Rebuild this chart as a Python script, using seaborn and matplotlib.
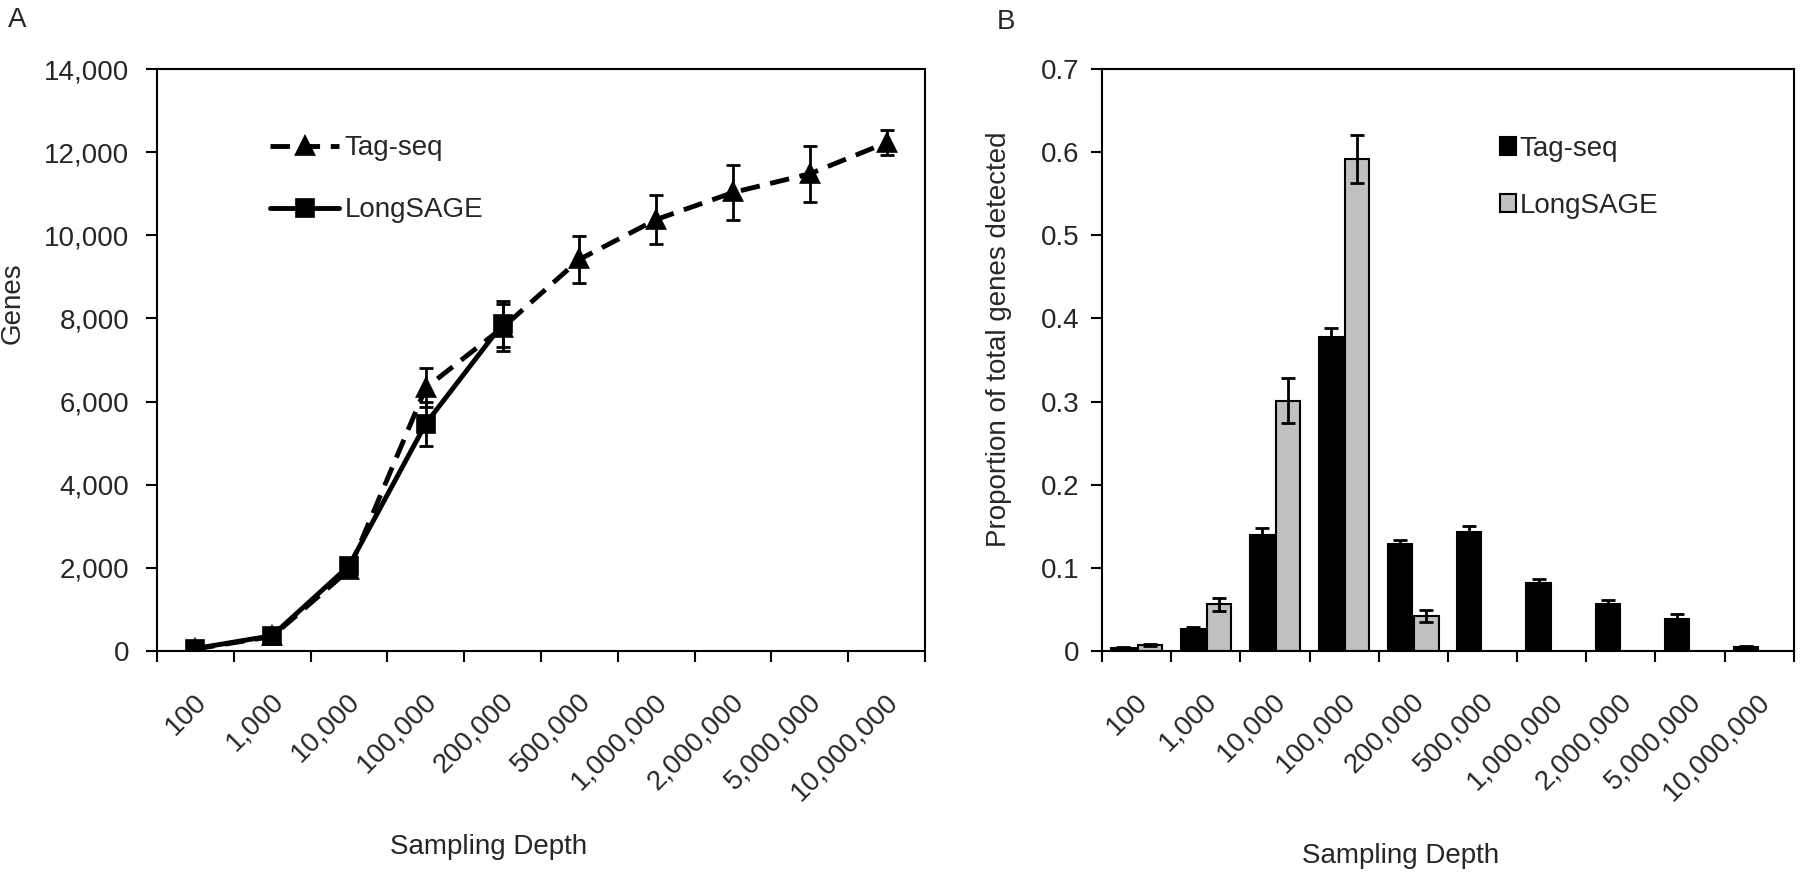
import numpy as np
import pandas as pd
import seaborn as sns
import matplotlib
matplotlib.use('Agg')
import matplotlib.pyplot as plt
from matplotlib import ticker, transforms

# sampling depths (categorical x axis)
depths = ['100', '1,000', '10,000', '100,000', '200,000', '500,000',
          '1,000,000', '2,000,000', '5,000,000', '10,000,000']
methods = ['Tag-seq', 'LongSAGE']

# panel A: genes detected
tag_genes = [50, 350, 1950, 6330, 7780, 9420, 10380, 11030, 11480, 12230]
tag_genes_err = [40, 60, 100, 470, 560, 560, 600, 650, 670, 310]
sage_genes = [60, 370, 2050, 5470, 7870]
sage_genes_err = [40, 60, 100, 530, 550]

# panel B: proportion of total genes detected
tag_prop = [0.004, 0.027, 0.140, 0.378, 0.129, 0.1435, 0.082, 0.057, 0.039, 0.005]
tag_prop_err = [0.001, 0.002, 0.008, 0.010, 0.004, 0.007, 0.005, 0.004, 0.005, 0.001]
sage_prop = [0.0075, 0.056, 0.301, 0.592, 0.0425]
sage_prop_err = [0.001, 0.008, 0.027, 0.029, 0.007]

genes_df = pd.concat([
    pd.DataFrame({'depth': depths, 'genes': tag_genes, 'method': 'Tag-seq'}),
    pd.DataFrame({'depth': depths[:len(sage_genes)], 'genes': sage_genes, 'method': 'LongSAGE'}),
])
prop_df = pd.concat([
    pd.DataFrame({'depth': depths, 'prop': tag_prop, 'method': 'Tag-seq'}),
    pd.DataFrame({'depth': depths[:len(sage_prop)], 'prop': sage_prop, 'method': 'LongSAGE'}),
])

sns.set_style('ticks')
plt.rcParams['font.family'] = ['Liberation Sans', 'DejaVu Sans']
plt.rcParams['font.size'] = 20

fig = plt.figure(figsize=(18, 8.76), dpi=100)
ax1 = fig.add_axes([0.0872, 0.2568, 0.4267, 0.6644])
ax2 = fig.add_axes([0.6122, 0.2568, 0.3844, 0.6644])

x_pos = np.arange(len(depths))

# ---- A ----
sns.pointplot(data=genes_df, x='depth', y='genes', hue='method', order=depths,
              hue_order=methods, palette={'Tag-seq': 'black', 'LongSAGE': 'black'},
              markers=['^', 's'], linestyles=[(0, (4, 2.2)), '-'],
              errorbar=None, markersize=11, linewidth=3.5, ax=ax1)
ax1.errorbar(x_pos, tag_genes, yerr=tag_genes_err, fmt='none', ecolor='black',
             elinewidth=2, capsize=5, capthick=2, zorder=1)
ax1.errorbar(x_pos[:len(sage_genes)], sage_genes, yerr=sage_genes_err, fmt='none',
             ecolor='black', elinewidth=2, capsize=5, capthick=2, zorder=1)
ax1.set_ylim(0, 14000)
ax1.set_yticks(np.arange(0, 14001, 2000))
ax1.yaxis.set_major_formatter(ticker.StrMethodFormatter('{x:,.0f}'))
ax1.set_ylabel('Genes')
sns.move_legend(ax1, loc='upper left', bbox_to_anchor=(0.147, 0.886), frameon=False,
                title=None, handlelength=2.5, handletextpad=0.2, labelspacing=1.3,
                borderaxespad=0, borderpad=0, fontsize=20)

# ---- B ----
sns.barplot(data=prop_df, x='depth', y='prop', hue='method', order=depths,
            hue_order=methods, palette={'Tag-seq': 'black', 'LongSAGE': '#c0c0c0'},
            edgecolor='black', linewidth=1.5, width=0.76, gap=0.08,
            errorbar=None, saturation=1, ax=ax2)
for cont, errs in zip(ax2.containers, [tag_prop_err, sage_prop_err]):
    xs = [b.get_x() + b.get_width() / 2 for b in cont]
    ys = [b.get_height() for b in cont]
    ax2.errorbar(xs, ys, yerr=errs, fmt='none', ecolor='black',
                 elinewidth=2, capsize=5, capthick=2)
ax2.set_ylim(0, 0.7)
ax2.set_yticks(np.arange(0, 0.71, 0.1))
ax2.yaxis.set_major_formatter(ticker.FuncFormatter(lambda v, p: f'{v:g}'))
ax2.set_ylabel('Proportion of total genes detected')
sns.move_legend(ax2, loc='upper left', bbox_to_anchor=(0.575, 0.885), frameon=False,
                title=None, handlelength=0.6, handleheight=0.6, handletextpad=0.1,
                labelspacing=1.1, borderaxespad=0, borderpad=0, fontsize=20)

offset = transforms.ScaledTranslation(-2 / 100, 0, fig.dpi_scale_trans)
for ax, ypad in ((ax1, 12), (ax2, 8)):
    ax.set_xlim(-0.5, len(depths) - 0.5)
    ax.set_xticks(x_pos)
    ax.set_xticklabels(depths, rotation=45, ha='right', va='top', rotation_mode='anchor')
    ax.set_xticks(np.arange(-0.5, len(depths)), minor=True)
    ax.tick_params(axis='x', which='major', length=0, pad=27, labelsize=20)
    ax.tick_params(axis='x', which='minor', length=8, width=1.5, direction='out', color='black')
    ax.tick_params(axis='y', length=8, width=1.5, pad=ypad, labelsize=20, color='black')
    ax.set_xlabel('Sampling Depth')
    for s in ax.spines.values():
        s.set_linewidth(1.5)
        s.set_color('black')
    for lab in ax.get_xticklabels():
        lab.set_transform(lab.get_transform() + offset)

# label positions (after set_xlabel, which resets x)
ax1.yaxis.set_label_coords(-0.171, 0.597)
ax1.xaxis.set_label_coords(0.432, -0.314)
ax2.yaxis.set_label_coords(-0.130, 0.536)
ax2.xaxis.set_label_coords(0.431, -0.33)

fig.text(17 / 1800, 1 - 20 / 876, 'A', ha='center', va='center', fontsize=20)
fig.text(1006 / 1800, 1 - 22 / 876, 'B', ha='center', va='center', fontsize=20)

fig.savefig('out.png', dpi=100)
